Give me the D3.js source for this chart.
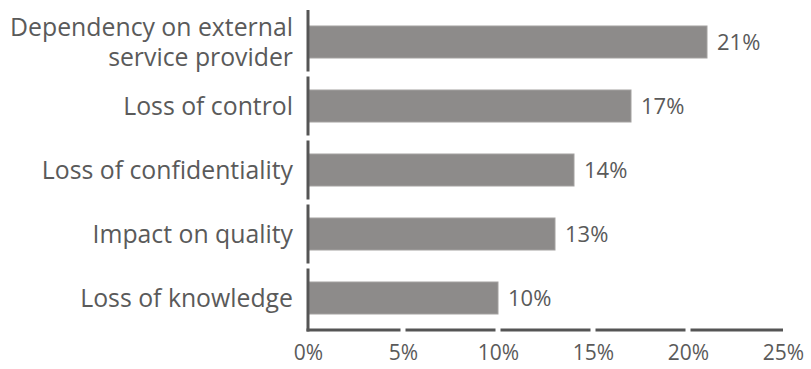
<!DOCTYPE html>
<html>
<head>
<meta charset="utf-8">
<script src="https://cdn.jsdelivr.net/npm/d3@7"></script>
<style>
  html, body { margin: 0; padding: 0; background: #fff; }
  svg text { font-family: "Open Sans", sans-serif; fill: #5a5a5a; }
</style>
</head>
<body>
<svg id="chart" width="811" height="369"></svg>
<script>
// Risks of outsourcing, share of respondents
const categories = [
  ["Dependency on external", "service provider"],
  ["Loss of control"],
  ["Loss of confidentiality"],
  ["Impact on quality"],
  ["Loss of knowledge"]
];
const values = [21, 17, 14, 13, 10];
const xTicks = [0, 5, 10, 15, 20, 25];

const svg = d3.select("#chart");
const x = d3.scaleLinear().domain([0, 25]).range([308, 783]);
const y = d3.scaleBand()
  .domain(d3.range(categories.length))
  .range([10, 330])
  .paddingInner(0.5)
  .paddingOuter(0.25);

const axisColor = "#555555";
const gap = 2.5;
const catSize = 24.8;

// Bars
svg.append("g").selectAll("rect")
  .data(values)
  .join("rect")
  .attr("x", x(0) + 1)
  .attr("y", (d, i) => y(i))
  .attr("width", d => x(d) - x(0) - 1)
  .attr("height", y.bandwidth())
  .attr("fill", "#8d8b8a")
  .attr("stroke", "#a3a1a0")
  .attr("stroke-width", 1);

// Value labels
svg.append("g").selectAll("text")
  .data(values)
  .join("text")
  .attr("x", d => x(d) + 10)
  .attr("y", (d, i) => y(i) + y.bandwidth() / 2)
  .attr("dy", "0.36em")
  .attr("font-size", 22)
  .text(d => d + "%");

// Category labels
const cat = svg.append("g").selectAll("text")
  .data(categories)
  .join("text")
  .attr("text-anchor", "end")
  .attr("font-size", catSize)
  .attr("x", 293)
  .attr("y", (d, i) => y(i) + y.bandwidth() / 2);
cat.each(function(lines) {
  const t = d3.select(this);
  const lh = 30;
  const off = -(lines.length - 1) * lh / 2;
  lines.forEach((line, k) => {
    t.append("tspan")
      .attr("x", 293)
      .attr("dy", k === 0 ? (off / catSize + 0.36) + "em" : lh + "px")
      .text(line);
  });
});

// Segmented y axis line, broken between categories
const step = y.step();
const yBreaks = d3.range(1, categories.length).map(i => y(i) - (step - y.bandwidth()) / 2);
const yStops = [10, ...yBreaks, 331.5];
const ySegs = d3.pairs(yStops).map(([a, b], i) => [i === 0 ? a : a + gap, i === yStops.length - 2 ? b : b - gap]);
svg.append("g").selectAll("line")
  .data(ySegs)
  .join("line")
  .attr("x1", x(0)).attr("x2", x(0))
  .attr("y1", d => d[0]).attr("y2", d => d[1])
  .attr("stroke", axisColor)
  .attr("stroke-width", 3);

// Segmented x axis line, broken at each tick
const xStops = xTicks.map(t => x(t));
const xSegs = d3.pairs(xStops).map(([a, b], i) => [i === 0 ? a - 1.5 : a + gap, i === xStops.length - 2 ? b : b - gap]);
svg.append("g").selectAll("line")
  .data(xSegs)
  .join("line")
  .attr("x1", d => d[0]).attr("x2", d => d[1])
  .attr("y1", 330).attr("y2", 330)
  .attr("stroke", axisColor)
  .attr("stroke-width", 3);

// X tick labels
const xAxis = d3.axisBottom(x)
  .tickValues(xTicks)
  .tickFormat(d => d + "%")
  .tickSize(0)
  .tickPadding(0);
const gx = svg.append("g").attr("transform", "translate(0,345)").call(xAxis);
gx.select(".domain").remove();
gx.selectAll("text")
  .attr("font-size", 21)
  .attr("font-family", "Open Sans, sans-serif")
  .attr("fill", "#5a5a5a")
  .attr("dy", "0.71em");
</script>
</body>
</html>
